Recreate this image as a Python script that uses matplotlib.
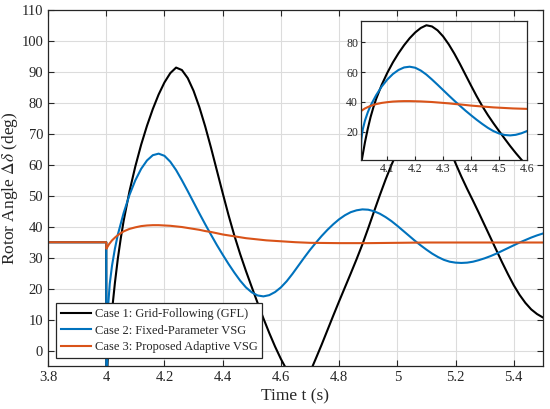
import numpy as np
import matplotlib
matplotlib.use('Agg')
import matplotlib.pyplot as plt

# values
t_gfl = [3.80, 3.90, 4.00, 4.0005, 4.005, 4.01, 4.02, 4.03, 4.04, 4.05, 4.06, 4.08,
         4.10, 4.12, 4.14, 4.16, 4.18, 4.20, 4.22, 4.24, 4.26, 4.28, 4.30, 4.32, 4.34,
         4.36, 4.38, 4.40, 4.42, 4.44, 4.46, 4.48, 4.50, 4.52, 4.54, 4.56, 4.58, 4.60,
         4.62, 4.64, 4.66, 4.68, 4.70, 4.72, 4.74, 4.76, 4.78, 4.80, 4.82, 4.84, 4.86,
         4.88, 4.90, 4.92, 4.94, 4.96, 4.98, 5.00, 5.02, 5.04, 5.06, 5.08, 5.10, 5.12,
         5.14, 5.16, 5.18, 5.20, 5.22, 5.24, 5.26, 5.28, 5.30, 5.32, 5.34, 5.36, 5.38,
         5.40, 5.42, 5.44, 5.46, 5.48, 5.50]
gfl = [35, 35, 35, -14, -3, 2.5, 13, 22, 29.8, 36.3, 42, 51.5,
       59.5, 66.5, 72.6, 78, 82.7, 86.6, 89.6, 91.4, 90.6, 88.0, 83.9, 78.6, 72.4,
       65.5, 58.2, 50.9, 43.8, 37.2, 31.2, 25.7, 20.5, 15.4, 10.4, 5.7, 1.3, -2.7,
       -6.2, -8.8, -10, -9.4, -7, -2.6, 1.9, 6.6, 11.3, 15.9, 20.4, 24.9, 29.5,
       34.3, 39.5, 44.9, 50.2, 55.3, 60, 64.2, 67.7, 70.4, 72.3, 73.4, 73.7, 73.1,
       71.5, 68.8, 65, 60.5, 56.2, 52.2, 48.4, 44.5, 40.5, 36.5, 32.5, 28.5, 24.7,
       21.1, 18, 15.4, 13.3, 11.8, 10.7]

t_vsg = [3.80, 3.90, 4.00, 4.0005, 4.003, 4.007, 4.012, 4.02, 4.03, 4.04, 4.06, 4.08,
         4.10, 4.12, 4.14, 4.16, 4.18, 4.20, 4.22, 4.24, 4.26, 4.28, 4.30, 4.32, 4.34,
         4.36, 4.38, 4.40, 4.42, 4.44, 4.46, 4.48, 4.50, 4.52, 4.54, 4.56, 4.58, 4.60,
         4.62, 4.64, 4.66, 4.68, 4.70, 4.72, 4.74, 4.76, 4.78, 4.80, 4.82, 4.84, 4.86,
         4.88, 4.90, 4.92, 4.94, 4.96, 4.98, 5.00, 5.02, 5.04, 5.06, 5.08, 5.10, 5.12,
         5.14, 5.16, 5.18, 5.20, 5.22, 5.24, 5.26, 5.28, 5.30, 5.32, 5.34, 5.36, 5.38,
         5.40, 5.42, 5.44, 5.46, 5.48, 5.50]
vsg = [35, 35, 35, -15, -5, 15, 21.5, 27.5, 33, 37.5, 44.5, 50.3,
       55, 58.7, 61.4, 63.1, 63.6, 62.9, 61.0, 58.3, 55.0, 51.5, 47.9, 44.3, 40.8,
       37.4, 34.1, 31.0, 28.0, 25.2, 22.6, 20.4, 18.8, 17.8, 17.5, 17.9, 18.9, 20.4,
       22.4, 24.8, 27.4, 30, 32.5, 34.8, 37, 39, 40.8, 42.4, 43.7, 44.7, 45.3,
       45.6, 45.5, 45, 44.2, 43.1, 41.8, 40.3, 38.7, 37.1, 35.5, 34, 32.6, 31.3,
       30.2, 29.3, 28.7, 28.4, 28.3, 28.4, 28.7, 29.2, 29.8, 30.5, 31.3, 32.2, 33.1,
       34, 34.9, 35.7, 36.5, 37.2, 37.8]

t_avsg = [3.80, 3.90, 4.00, 4.0005, 4.005, 4.01, 4.02, 4.03, 4.04, 4.06, 4.08, 4.10,
          4.12, 4.14, 4.16, 4.18, 4.20, 4.22, 4.24, 4.26, 4.28, 4.30, 4.32, 4.34, 4.36,
          4.38, 4.40, 4.42, 4.44, 4.46, 4.48, 4.50, 4.55, 4.60, 4.65, 4.70, 4.80, 4.90,
          5.00, 5.10, 5.20, 5.30, 5.40, 5.50]
avsg = [35, 35, 35, 32.9, 33.6, 34.4, 35.6, 36.5, 37.3, 38.5, 39.3, 39.8,
        40.2, 40.4, 40.5, 40.5, 40.4, 40.3, 40.1, 39.9, 39.6, 39.3, 39, 38.6, 38.3,
        37.9, 37.5, 37.2, 36.9, 36.6, 36.3, 36.1, 35.6, 35.3, 35, 34.8, 34.7, 34.7,
        34.8, 34.9, 34.9, 34.9, 34.9, 34.9]

labels = ['Case 1: Grid-Following (GFL)', 'Case 2: Fixed-Parameter VSG',
          'Case 3: Proposed Adaptive VSG']
colors = ['#000000', '#0072BD', '#D95319']

xticks = [3.8, 4.0, 4.2, 4.4, 4.6, 4.8, 5.0, 5.2, 5.4]
xticklabels = ['3.8', '4', '4.2', '4.4', '4.6', '4.8', '5', '5.2', '5.4']
yticks = list(range(0, 111, 10))
inset_xticks = [4.1, 4.2, 4.3, 4.4, 4.5, 4.6]
inset_yticks = [20, 40, 60, 80]

plt.rcParams['font.family'] = ['Liberation Serif', 'DejaVu Serif']
plt.rcParams['mathtext.fontset'] = 'stix'

fig = plt.figure(figsize=(5.5, 4.09), dpi=100)
ax = fig.add_axes([0.0873, 0.105, 0.8997, 0.8706])

series = [(t_gfl, gfl), (t_vsg, vsg), (t_avsg, avsg)]
for (t, v), lab, c in zip(series, labels, colors):
    ax.plot(t, v, color=c, lw=1.5, label=lab, solid_joinstyle='round')

ax.set_xlim(3.8, 5.5)
ax.set_ylim(-5, 110)
ax.set_xticks(xticks)
ax.set_xticklabels(xticklabels)
ax.set_yticks(yticks)
ax.grid(True, color='#dcdcdc', lw=0.8)
ax.tick_params(direction='in', top=True, right=True, labelsize=10.5, length=4,
               color='#262626', labelcolor='#262626')
for s in ax.spines.values():
    s.set_color('#262626')
    s.set_linewidth(0.9)
ax.set_xlabel('Time t (s)', fontsize=12.5, labelpad=3, color='#262626')
ax.set_ylabel(r'Rotor Angle $\Delta\delta$ (deg)', fontsize=12.5, color='#262626')
ax.yaxis.set_label_coords(-0.056, 0.5)

leg = ax.legend(loc='lower left', bbox_to_anchor=(0.016, 0.022), borderaxespad=0,
                fontsize=9, fancybox=False, framealpha=1, edgecolor='#262626',
                handlelength=2.4, handletextpad=0.3, borderpad=0.4, labelspacing=0.35)
leg.get_frame().set_linewidth(0.9)
for txt in leg.get_texts():
    txt.set_color('#262626')

# zoomed inset of the first swing
axin = fig.add_axes([0.656, 0.6088, 0.302, 0.34])
for (t, v), c in zip(series, colors):
    axin.plot(t, v, color=c, lw=1.5, solid_joinstyle='round')
axin.set_xlim(4.005, 4.6)
axin.set_ylim(1, 94.3)
axin.set_xticks(inset_xticks)
axin.set_yticks(inset_yticks)
axin.grid(True, color='#dcdcdc', lw=0.8)
axin.tick_params(direction='in', labelsize=8.5, length=3, pad=2,
                 color='#262626', labelcolor='#262626')
for s in axin.spines.values():
    s.set_color('#262626')
    s.set_linewidth(0.9)

fig.savefig('out.png', dpi=100)
